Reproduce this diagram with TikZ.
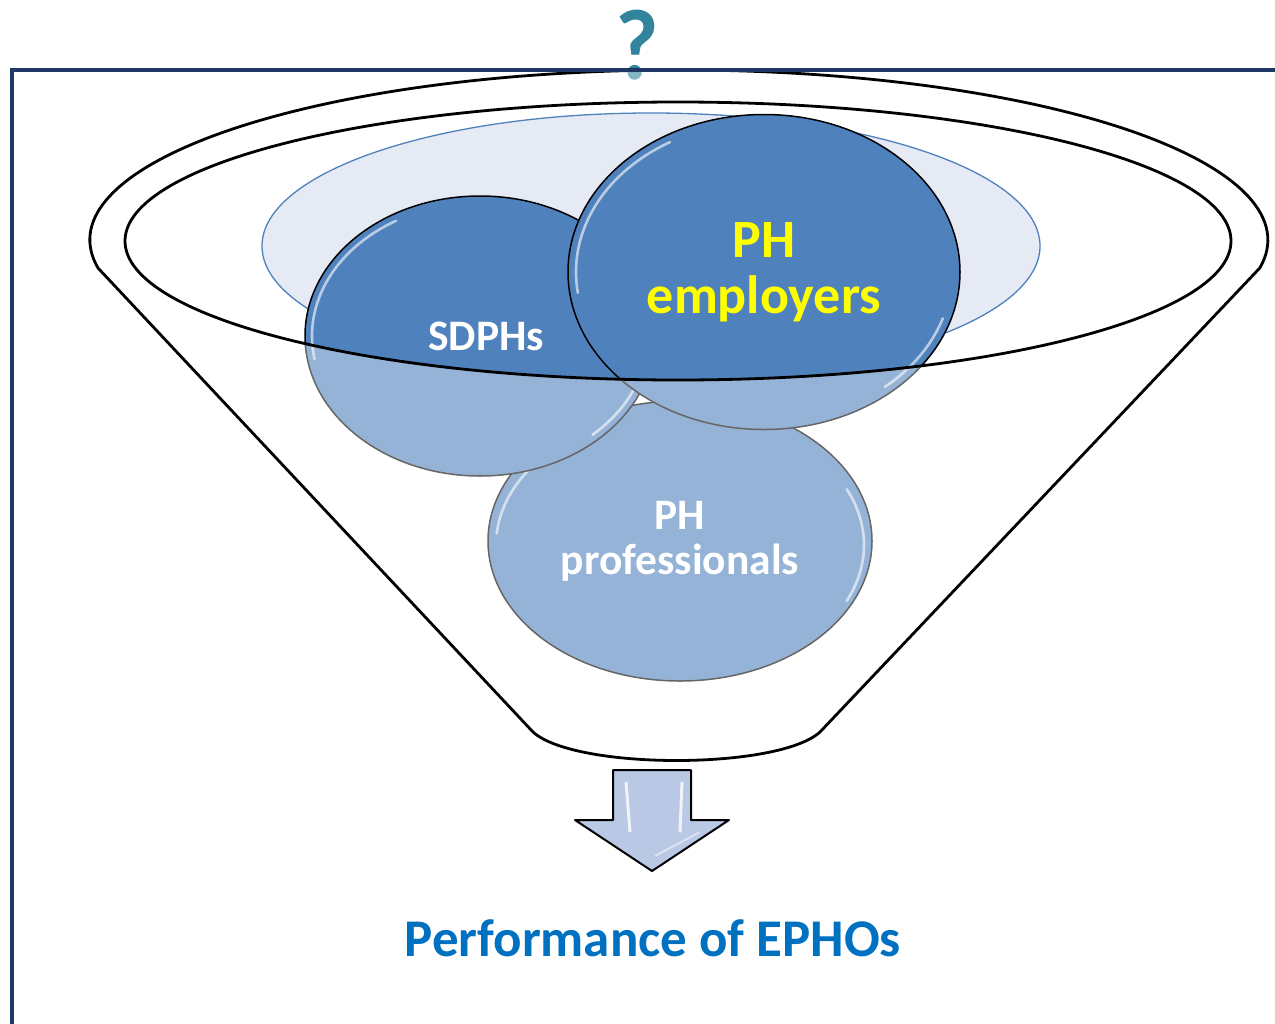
\documentclass[tikz,border=0pt]{standalone}
\usepackage{fontspec}
\setmainfont{Carlito}
\usetikzlibrary{shapes.geometric}

\definecolor{setblue}{HTML}{4F81BD}
\definecolor{poolfill}{HTML}{E5EAF4}
\definecolor{qteal}{HTML}{31849B}
\definecolor{outblue}{HTML}{0070C0}
\definecolor{framenavy}{HTML}{1F3864}
\definecolor{arrowfill}{HTML}{B8C8E5}
\definecolor{labelyellow}{HTML}{FFFF00}

\tikzset{
  setcircle/.style={ellipse, inner sep=0pt, fill=setblue, draw=black, line width=1.5bp,
                    font=\bfseries, align=center},
  gloss/.style={white, line width=2.6bp, opacity=0.6, line cap=round},
  funnelline/.style={black, line width=2.8bp, line join=round},
  framerule/.style={framenavy, line width=3.2bp},
}

\begin{document}
\begin{tikzpicture}[x=1bp, y=-1bp]
\useasboundingbox (0,0) rectangle (1275,1024);

% question mark above the frame
\node[text=qteal, font=\fontsize{94bp}{94bp}\bfseries, yscale=1.07, inner sep=0pt]
  (qmark) at (637,45) {?};

% pool of stakeholders seen through the funnel mouth
\node[ellipse, minimum width=778bp, minimum height=266bp, inner sep=0pt,
      fill=poolfill, draw=setblue, line width=1.3bp] (pool) at (651,246) {};

% the three stakeholder groups, each with its glossy rim
\node[setcircle, minimum width=384bp, minimum height=280bp, text=white,
      font=\fontsize{43.5bp}{45bp}\bfseries] (prof) at (680,541)
  {PH\\professionals};
\draw[gloss] (680,545) ++(185:184 and 132) arc[start angle=185, end angle=235, x radius=184, y radius=132];
\draw[gloss] (680,545) ++(-25:184 and 132) arc[start angle=-25, end angle=25, x radius=184, y radius=132];

\node[setcircle, minimum width=350bp, minimum height=280bp, text=white,
      font=\fontsize{43.5bp}{45bp}\bfseries] (sdph) at (480,336) {\hspace{12bp}SDPHs};
\draw[gloss] (480,336) ++(170:168 and 133) arc[start angle=170, end angle=240, x radius=168, y radius=133];
\draw[gloss] (480,336) ++(18:168 and 133) arc[start angle=18, end angle=48, x radius=168, y radius=133];

\node[setcircle, minimum width=392bp, minimum height=315bp, text=labelyellow,
      font=\fontsize{54bp}{56bp}\bfseries] (empl) at (764,272)
  {PH\\employers};
\draw[gloss] (764,272) ++(172:188 and 150) arc[start angle=172, end angle=240, x radius=188, y radius=150];
\draw[gloss] (764,272) ++(18:188 and 150) arc[start angle=18, end angle=50, x radius=188, y radius=150];

% translucent funnel body (everything but the open mouth)
\fill[white, opacity=0.4, even odd rule]
  (98,268) arc[start angle=170.5, end angle=369.5, x radius=589, y radius=170]
  -- (820,732) .. controls (778,770) and (575,770) .. (533,732) -- cycle
  (678,241) ellipse[x radius=553, y radius=139];

% funnel outlines
\draw[funnelline]
  (98,268) arc[start angle=170.5, end angle=369.5, x radius=589, y radius=170]
  -- (820,732) .. controls (778,770) and (575,770) .. (533,732) -- cycle;
\draw[funnelline] (678,241) ellipse[x radius=553, y radius=139];

% frame
\draw[framerule] (12,1024) -- (12,70) -- (1275,70);

% output arrow
\draw[fill=arrowfill, draw=black, line width=2bp, line join=round]
  (613,770) -- (691,770) -- (691,820) -- (729,820) -- (652,871)
  -- (575,820) -- (613,820) -- cycle;
\draw[white, line width=3bp, opacity=0.8] (626,782) -- (630,832);
\draw[white, line width=3bp, opacity=0.8] (682,782) -- (680,832);
\draw[white, line width=2bp, opacity=0.5] (655,856) -- (700,832);

% result
\node[text=outblue, font=\fontsize{53bp}{53bp}\bfseries, inner sep=0pt]
  (perf) at (653,938) {Performance of EPHOs};
\end{tikzpicture}
\end{document}
